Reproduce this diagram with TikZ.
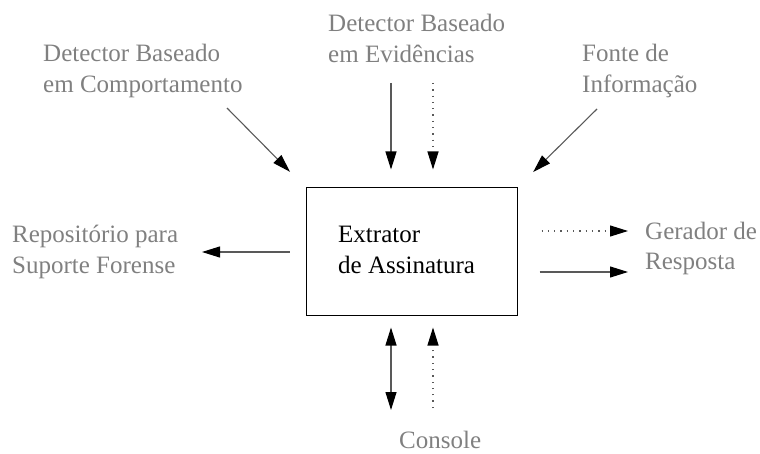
\documentclass[tikz,border=0pt]{standalone}
\usepackage{fontspec}
\setmainfont{Liberation Serif}
\usetikzlibrary{positioning, arrows.meta}
\tikzset{
	labe/.style={
		text=black!50,
		align=left,
		anchor=base west,
		inner sep=0pt,
		font={\fontsize{25}{31}\selectfont}
	},
	tip/.style={
		-{Triangle[length=18pt,width=11pt,color=black]}
	},
	arr/.style={
		draw=black!65,
		line width=1.1pt,
		tip
	},
	dotarr/.style={
		arr,
		dash pattern=on 1.3pt off 5pt
	}
}

\begin{document}
\begin{tikzpicture}[x=1pt, y=-1pt,
	block/.style = {draw, line width=1pt, minimum width=211pt, minimum height=127pt, inner sep=0pt},
	inner/.style = {labe, text=black}
	]
	\useasboundingbox (0,0) rectangle (760,454);
	
	\node[block] (box) at (411.5,251.5) {};
	\node[inner] (name) at (338,273) {Extrator\\de Assinatura};
	
	\node[labe] (evid) at (328,63) {Detector Baseado\\em Evidências};
	\node[labe] (comp) at (43,93) {Detector Baseado\\em Comportamento};
	\node[labe] (fonte) at (582,93) {Fonte de\\Informação};
	\node[labe] (repo) at (12,273) {Repositório para\\Suporte Forense};
	\node[labe] (gera) at (645,270) {Gerador de\\Resposta};
	\node[labe] (cons) at (399,448) {Console};
	
	% free ends near the labels
	\coordinate (evid-a) at (391,83);
	\coordinate (evid-b) at (433,83);
	\coordinate (comp-a) at (227,108);
	\coordinate (fonte-a) at (597,109);
	\coordinate (repo-a) at (202,252);
	\coordinate (gera-a) at (628,231);
	\coordinate (gera-b) at (628,272);
	\coordinate (cons-a) at (391,410);
	\coordinate (cons-b) at (433,408);
	
	\draw[arr, shorten >=18pt] (evid-a) -- (evid-a |- box.north);
	\draw[dotarr, shorten >=18pt] (evid-b) -- (evid-b |- box.north);
	\draw[arr, shorten >=22pt] (comp-a) -- (box.north west);
	\draw[arr, shorten >=22pt] (fonte-a) -- (box.north east);
	\draw[arr, shorten <=16pt] (repo-a -| box.west) -- (repo-a);
	\draw[dotarr, shorten <=24pt] (gera-a -| box.east) -- (gera-a);
	\draw[arr, shorten <=22pt] (gera-b -| box.east) -- (gera-b);
	\draw[arr, {Triangle[length=18pt,width=11pt,color=black]}-{Triangle[length=18pt,width=11pt,color=black]}, shorten <=12pt] (cons-a |- box.south) -- (cons-a);
	\draw[dotarr, shorten >=12pt] (cons-b) -- (cons-b |- box.south);
	
\end{tikzpicture}
\end{document}
